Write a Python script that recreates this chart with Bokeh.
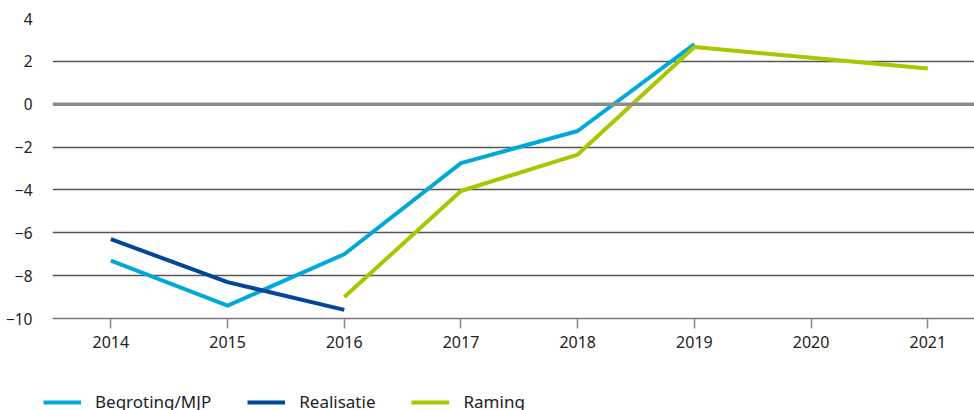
from bokeh.plotting import figure
from bokeh.models import Range1d, FixedTicker, Legend, LegendItem, Span
from bokeh.layouts import column
from bokeh.embed import file_html
from bokeh.resources import INLINE

years = [2014, 2015, 2016, 2017, 2018, 2019, 2020, 2021]
begroting_years = [2014, 2015, 2016, 2017, 2018, 2019]
begroting = [-7.3, -9.4, -7.0, -2.75, -1.25, 2.8]
realisatie_years = [2014, 2015, 2016]
realisatie = [-6.3, -8.3, -9.6]
raming_years = [2016, 2017, 2018, 2019, 2020, 2021]
raming = [-9.0, -4.05, -2.35, 2.67, 2.17, 1.67]
y_ticks = [-10, -8, -6, -4, -2, 0, 2, 4]
series_names = ["Begroting/MJP", "Realisatie", "Raming"]
series_colors = ["#00a9d9", "#01469a", "#a9c700"]
series_x = [begroting_years, realisatie_years, raming_years]
series_y = [begroting, realisatie, raming]

FONT = "Noto Sans"

p = figure(frame_width=922, frame_height=300, output_backend="svg", toolbar_location=None,
           x_range=Range1d(2013.5, 2021.4), y_range=Range1d(-10, 4),
           min_border_left=52, min_border_right=0, min_border_top=18,
           min_border_bottom=60)
p.outline_line_color = None
p.background_fill_color = "white"
p.border_fill_color = "white"

p.xgrid.grid_line_color = None
p.ygrid.ticker = FixedTicker(ticks=[t for t in y_ticks if t != 0])
p.ygrid.grid_line_color = "#555555"
p.ygrid.grid_line_width = 1.3

p.xaxis.ticker = FixedTicker(ticks=years)
p.xaxis.axis_line_color = "#777777"
p.xaxis.axis_line_width = 1.5
p.xaxis.major_tick_line_color = "#888888"
p.xaxis.major_tick_line_width = 1.5
p.xaxis.major_tick_in = 0
p.xaxis.major_tick_out = 10
p.xaxis.minor_tick_line_color = None
p.xaxis.major_label_text_font = FONT
p.xaxis.major_label_text_font_size = "16px"
p.xaxis.major_label_text_color = "#222222"
p.xaxis.major_label_standoff = 7

p.yaxis.ticker = FixedTicker(ticks=y_ticks)
p.yaxis.axis_line_color = None
p.yaxis.major_tick_line_color = None
p.yaxis.minor_tick_line_color = None
p.yaxis.major_label_text_font = FONT
p.yaxis.major_label_text_font_size = "15.5px"
p.yaxis.major_label_text_color = "#222222"
p.yaxis.major_label_standoff = 14
p.yaxis.major_label_overrides = {t: str(t).replace("-", "\u2212") for t in y_ticks}

zero = Span(location=0, dimension="width", line_color="#8c8c8c", line_width=3.5)
p.add_layout(zero)

for xs, ys, color in zip(series_x, series_y, series_colors):
    p.line(xs, ys, line_color=color, line_width=4)

# legend strip below the chart (its lines lie outside its visible ranges)
lg = figure(frame_width=974, frame_height=40, output_backend="svg", toolbar_location=None,
            x_range=Range1d(0, 1), y_range=Range1d(0, 1),
            min_border_left=0, min_border_right=0, min_border_top=0, min_border_bottom=0)
lg.axis.visible = False
lg.grid.visible = False
lg.outline_line_color = None
items = []
for name, color, xs, ys in zip(series_names, series_colors, series_x, series_y):
    r = lg.line(xs, ys, line_color=color, line_width=4)
    items.append(LegendItem(label=name, renderers=[r]))

legend = Legend(items=items, orientation="horizontal", location=(43, 5),
                label_text_font=FONT, label_text_font_size="17px",
                label_text_color="#222222",
                glyph_width=38, glyph_height=20, label_height=20,
                label_standoff=14, spacing=36,
                border_line_color=None, background_fill_alpha=0,
                margin=0, padding=0)
lg.add_layout(legend, "center")

layout = column(p, lg, spacing=0)
open("out.html", "w").write(file_html(layout, INLINE))
